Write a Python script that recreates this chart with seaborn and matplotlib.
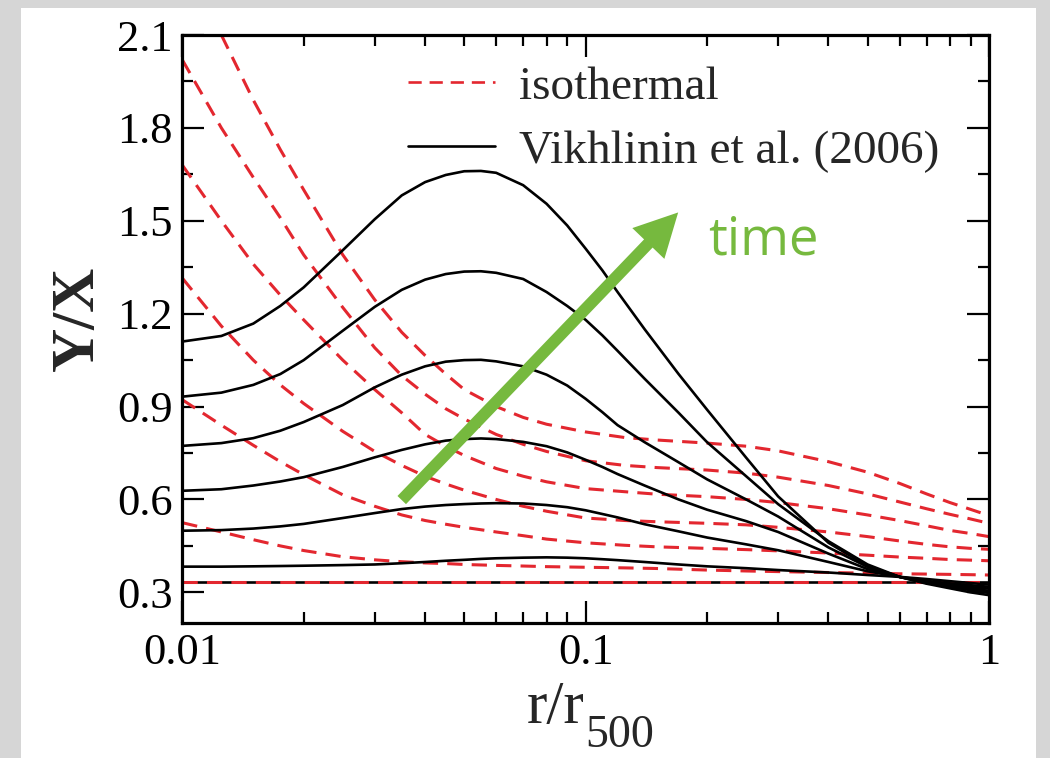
import numpy as np
import pandas as pd
import matplotlib
matplotlib.use("Agg")
import matplotlib.pyplot as plt
import seaborn as sns
from matplotlib.lines import Line2D
from matplotlib.patches import Rectangle
from matplotlib.ticker import MultipleLocator, LogLocator, NullFormatter

# ---------------- data ----------------
r_iso = [0.01, 0.0125, 0.015, 0.0175, 0.02, 0.025, 0.03, 0.035, 0.04, 0.045, 0.05,
         0.06, 0.07, 0.08, 0.1, 0.125, 0.15, 0.2, 0.25, 0.3, 0.4, 0.5, 0.6, 0.7,
         0.8, 0.9, 1.0]
r_iso1 = r_iso[1:]
iso_1 = [2.10, 1.89, 1.73, 1.60, 1.39, 1.245, 1.14, 1.065, 1.005, 0.955, 0.90, 0.865,
         0.843, 0.818, 0.80, 0.792, 0.782, 0.772, 0.757, 0.722, 0.688, 0.652, 0.618,
         0.59, 0.568, 0.548]
iso_2 = [2.02, 1.80, 1.64, 1.51, 1.39, 1.22, 1.09, 1.00, 0.94, 0.893, 0.86, 0.81,
         0.778, 0.755, 0.725, 0.71, 0.703, 0.695, 0.685, 0.672, 0.645, 0.618, 0.592,
         0.57, 0.552, 0.537, 0.523]
iso_3 = [1.68, 1.50, 1.36, 1.26, 1.18, 1.05, 0.955, 0.88, 0.81, 0.772, 0.742, 0.70,
         0.675, 0.657, 0.635, 0.625, 0.617, 0.609, 0.60, 0.59, 0.57, 0.55, 0.532,
         0.515, 0.50, 0.49, 0.48]
iso_4 = [1.315, 1.16, 1.05, 0.97, 0.91, 0.82, 0.755, 0.71, 0.675, 0.65, 0.63, 0.60,
         0.578, 0.562, 0.54, 0.532, 0.528, 0.523, 0.518, 0.51, 0.495, 0.48, 0.466,
         0.455, 0.447, 0.442, 0.439]
iso_5 = [0.922, 0.84, 0.775, 0.722, 0.68, 0.615, 0.578, 0.55, 0.532, 0.52, 0.51, 0.495,
         0.483, 0.472, 0.46, 0.452, 0.447, 0.442, 0.438, 0.434, 0.427, 0.42, 0.414,
         0.41, 0.406, 0.404, 0.402]
iso_6 = [0.525, 0.495, 0.47, 0.45, 0.435, 0.415, 0.405, 0.399, 0.395, 0.393, 0.39,
         0.387, 0.385, 0.383, 0.381, 0.379, 0.377, 0.372, 0.369, 0.367, 0.364, 0.362,
         0.36, 0.359, 0.358, 0.357, 0.356]
r_iso7 = [0.01, 1.0]
iso_7 = [0.333, 0.333]

r_vik = [0.01, 0.0125, 0.015, 0.0175, 0.02, 0.025, 0.03, 0.035, 0.04, 0.045, 0.05,
         0.055, 0.06, 0.07, 0.08, 0.09, 0.1, 0.11, 0.12, 0.14, 0.17, 0.2, 0.25, 0.3,
         0.4, 0.5, 0.6, 0.7, 0.8, 0.9, 1.0]
vik_1 = [1.11, 1.128, 1.168, 1.225, 1.285, 1.405, 1.505, 1.582, 1.625, 1.648, 1.66,
         1.661, 1.655, 1.615, 1.555, 1.485, 1.41, 1.34, 1.27, 1.15, 1.005, 0.89, 0.735,
         0.61, 0.46, 0.385, 0.35, 0.328, 0.313, 0.30, 0.291]
vik_2 = [0.932, 0.945, 0.97, 1.005, 1.05, 1.145, 1.222, 1.277, 1.31, 1.328, 1.336,
         1.337, 1.332, 1.312, 1.27, 1.225, 1.18, 1.13, 1.08, 0.99, 0.88, 0.785, 0.675,
         0.585, 0.465, 0.39, 0.35, 0.33, 0.318, 0.307, 0.298]
vik_3 = [0.773, 0.782, 0.798, 0.822, 0.85, 0.905, 0.962, 1.003, 1.03, 1.045, 1.05,
         1.051, 1.046, 1.03, 1.003, 0.968, 0.925, 0.882, 0.84, 0.785, 0.72, 0.665, 0.60,
         0.545, 0.445, 0.382, 0.35, 0.332, 0.32, 0.312, 0.305]
vik_4 = [0.628, 0.633, 0.645, 0.658, 0.672, 0.705, 0.736, 0.76, 0.778, 0.79, 0.795,
         0.797, 0.795, 0.786, 0.772, 0.752, 0.728, 0.705, 0.682, 0.645, 0.60, 0.567,
         0.53, 0.495, 0.425, 0.375, 0.35, 0.334, 0.324, 0.317, 0.312]
vik_5 = [0.499, 0.501, 0.506, 0.513, 0.521, 0.54, 0.556, 0.569, 0.577, 0.582, 0.585,
         0.587, 0.588, 0.587, 0.582, 0.575, 0.565, 0.553, 0.542, 0.52, 0.497, 0.477,
         0.455, 0.436, 0.398, 0.368, 0.35, 0.337, 0.329, 0.323, 0.318]
vik_6 = [0.383, 0.383, 0.384, 0.385, 0.386, 0.388, 0.39, 0.394, 0.398, 0.402, 0.405,
         0.408, 0.41, 0.412, 0.413, 0.412, 0.41, 0.407, 0.404, 0.398, 0.39, 0.384,
         0.378, 0.372, 0.364, 0.356, 0.35, 0.343, 0.336, 0.33, 0.325]
r_vik7 = [0.01, 1.0]
vik_7 = [0.334, 0.334]

y_ticks = [0.3, 0.6, 0.9, 1.2, 1.5, 1.8, 2.1]
y_ticklabels = ["0.3", "0.6", "0.9", "1.2", "1.5", "1.8", "2.1"]
x_ticks = [0.01, 0.1, 1.0]
x_ticklabels = ["0.01", "0.1", "1"]
legend_labels = ["isothermal", "Vikhlinin et al. (2006)"]

arrow_tail = (0.035, 0.598)
arrow_tip = (0.1696, 1.527)
time_pos = (0.201, 1.391)

# ---------------- style ----------------
sns.set_style("ticks")
plt.rcParams["font.family"] = ["Liberation Serif", "DejaVu Serif"]

RED = "#e3272f"
GREEN = "#76b93e"
DASH = (0, (5, 3.0))

fig = plt.figure(figsize=(10.5, 7.58), dpi=100, facecolor="#d6d6d6")
fig.patches.append(Rectangle((21 / 1050, 0), (1036 - 21) / 1050, 750 / 758,
                             transform=fig.transFigure, facecolor="white",
                             edgecolor="none", zorder=-5))
ax = fig.add_axes([0.1736, 0.1777, 0.7683, 0.7761])
ax.set_facecolor("white")

# black baseline first, red isothermal, then the other black curves on top
sns.lineplot(x=r_vik7, y=vik_7, ax=ax, color="black", linewidth=1.9,
             estimator=None, sort=False, legend=False)
for xs, ys in [(r_iso1, iso_1), (r_iso, iso_2), (r_iso, iso_3), (r_iso, iso_4),
               (r_iso, iso_5), (r_iso, iso_6), (r_iso7, iso_7)]:
    sns.lineplot(x=xs, y=ys, ax=ax, color=RED, linewidth=2.2, linestyle=DASH,
                 estimator=None, sort=False, legend=False)
for ys in [vik_1, vik_2, vik_3, vik_4, vik_5, vik_6]:
    sns.lineplot(x=r_vik, y=ys, ax=ax, color="black", linewidth=1.9,
                 estimator=None, sort=False, legend=False)

ax.set_xscale("log")
ax.set_xlim(0.01, 1.0)
ax.set_ylim(0.2, 2.1)
ax.set_xticks(x_ticks)
ax.set_xticklabels(x_ticklabels)
ax.xaxis.set_minor_locator(LogLocator(base=10, subs=np.arange(2, 10)))
ax.xaxis.set_minor_formatter(NullFormatter())
ax.set_yticks(y_ticks)
ax.set_yticklabels(y_ticklabels)
ax.yaxis.set_minor_locator(MultipleLocator(0.15))
ax.tick_params(which="both", direction="in", top=True, right=True,
               colors="black", labelsize=32, pad=7, width=1.6)
ax.tick_params(which="major", length=16)
ax.tick_params(which="minor", length=8)
for s in ax.spines.values():
    s.set_linewidth(2.3)
    s.set_color("black")
ax.set_xlabel("")
ax.set_ylabel("")

handles = [Line2D([], [], color=RED, lw=1.9, linestyle=DASH),
           Line2D([], [], color="black", lw=1.9)]
ax.legend(handles, legend_labels, loc="upper left", bbox_to_anchor=(0.2798, 0.948),
          frameon=False, fontsize=34, handlelength=1.85, handletextpad=0.5,
          labelspacing=0.45, borderpad=0, borderaxespad=0)

ax.annotate("", xy=arrow_tip, xytext=arrow_tail,
            arrowprops=dict(arrowstyle="simple,head_length=3.1,head_width=3.2,tail_width=0.85",
                            color=GREEN, lw=0, shrinkA=0, shrinkB=0, mutation_scale=10))
ax.text(time_pos[0], time_pos[1], "time", color=GREEN, fontsize=38,
        family=["Open Sans", "DejaVu Sans"], ha="left", va="baseline")

fig.text(78 / 1050, 1 - 318 / 758, "Y/X", rotation=90, fontsize=44,
         fontweight="bold", ha="center", va="center")
fig.text(584 / 1050, 1 - 723 / 758, "r/r", fontsize=44, ha="right", va="baseline")
fig.text(585 / 1050, 1 - 747 / 758, "500", fontsize=33, ha="left", va="baseline")

fig.savefig("out.png", dpi=100, facecolor=fig.get_facecolor())
